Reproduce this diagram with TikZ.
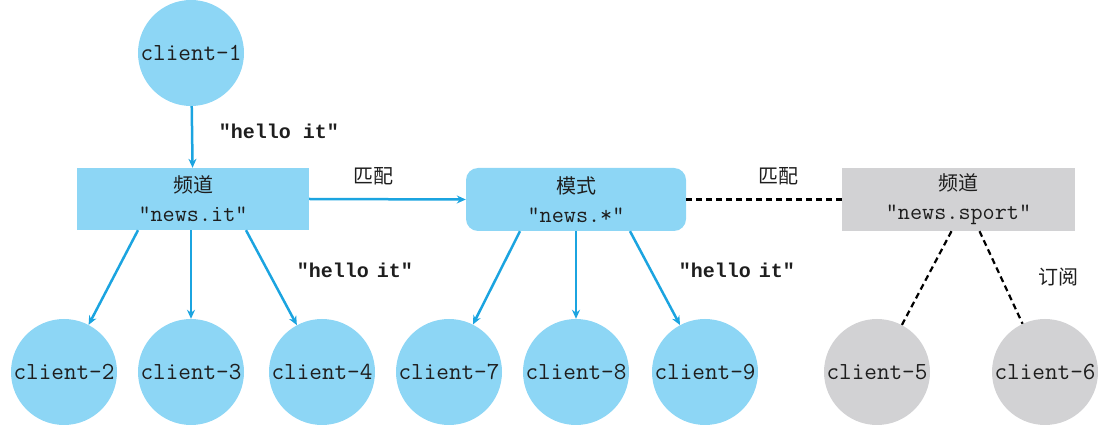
\documentclass[tikz,border=0pt]{standalone}
\usepackage{fontspec}
\newfontfamily\lmono{Liberation Mono}
\newfontfamily\cjk{Noto Sans CJK SC}
\usetikzlibrary{arrows.meta}
\definecolor{lblue}{HTML}{8DD6F5}
\definecolor{lineblue}{HTML}{1BA4E0}
\definecolor{lgray}{HTML}{D2D2D4}
\definecolor{txt}{HTML}{1E1E1E}
\begin{document}
\begin{tikzpicture}[x=1pt,y=-1pt,
  client/.style={circle,fill=lblue,minimum size=106pt,inner sep=0pt,font=\ttfamily\fontsize{24.5}{26}\selectfont,text=txt},
  gclient/.style={client,fill=lgray},
  box/.style={fill=lblue,minimum width=232pt,minimum height=62pt,inner sep=0pt,align=center,font=\ttfamily\fontsize{23.5}{29}\selectfont,text=txt},
  arr/.style={draw=lineblue,line width=2.5pt,-{Stealth[length=9pt,width=8pt]}},
  dsh/.style={draw=black,line width=2.2pt,dash pattern=on 6pt off 4pt},
  lbl/.style={font=\lmono\bfseries\fontsize{20}{24}\selectfont,text=txt},
  zh/.style={font=\cjk\fontsize{20}{22}\selectfont,text=txt}
]
\useasboundingbox (0,0) rectangle (1114,443);
% nodes
\node[client] (c1) at (191,53) {client-1};
\node[box] (b1) at (193,199) {{\cjk\fontsize{20}{29}\selectfont 频道}\\"news.it"};
\node[box,minimum width=220pt,minimum height=63pt,rounded corners=12pt] (b2) at (576,199.5) {{\cjk\fontsize{20}{29}\selectfont 模式}\\"news.*"};
\node[box,fill=lgray,minimum width=233pt,minimum height=63pt] (b3) at (958.5,199.5) {{\cjk\fontsize{20}{29}\selectfont 频道}\\"news.sport"};
\node[client] (c2) at (64,372) {client-2};
\node[client] (c3) at (191,372) {client-3};
\node[client] (c4) at (322,372) {client-4};
\node[client] (c7) at (449,372) {client-7};
\node[client] (c8) at (576,372) {client-8};
\node[client] (c9) at (705,372) {client-9};
\node[gclient] (c5) at (877,372) {client-5};
\node[gclient] (c6) at (1045,372) {client-6};
% labels
\node[lbl] (l1) at (279,131) {"hello it"};
\node[lbl] (l2) at (355,270) {"hello\hspace{-4pt} it"};
\node[lbl] (l3) at (737,270) {"hello\hspace{-4pt} it"};
\node[zh] (m1) at (373,176) {匹配};
\node[zh] (m2) at (778,176) {匹配};
\node[zh] (s1) at (1058,277) {订阅};
% connectors
\draw[arr] (c1) -- (b1);
\draw[arr] (b1.east) -- (b2.west);
\draw[arr] ([xshift=-55pt]b1.south) -- (c2);
\draw[arr] (b1.south -| c3) -- (c3);
\draw[arr] ([xshift=53pt]b1.south) -- (c4);
\draw[arr] ([xshift=-56pt]b2.south) -- (c7);
\draw[arr] (b2.south) -- (c8);
\draw[arr] ([xshift=54pt]b2.south) -- (c9);
\draw[dsh,line width=3pt] (b2.east) -- (b3.west);
\draw[dsh] ([xshift=-7pt]b3.south) -- (c5);
\draw[dsh] ([xshift=21pt]b3.south) -- (c6);
\end{tikzpicture}
\end{document}
